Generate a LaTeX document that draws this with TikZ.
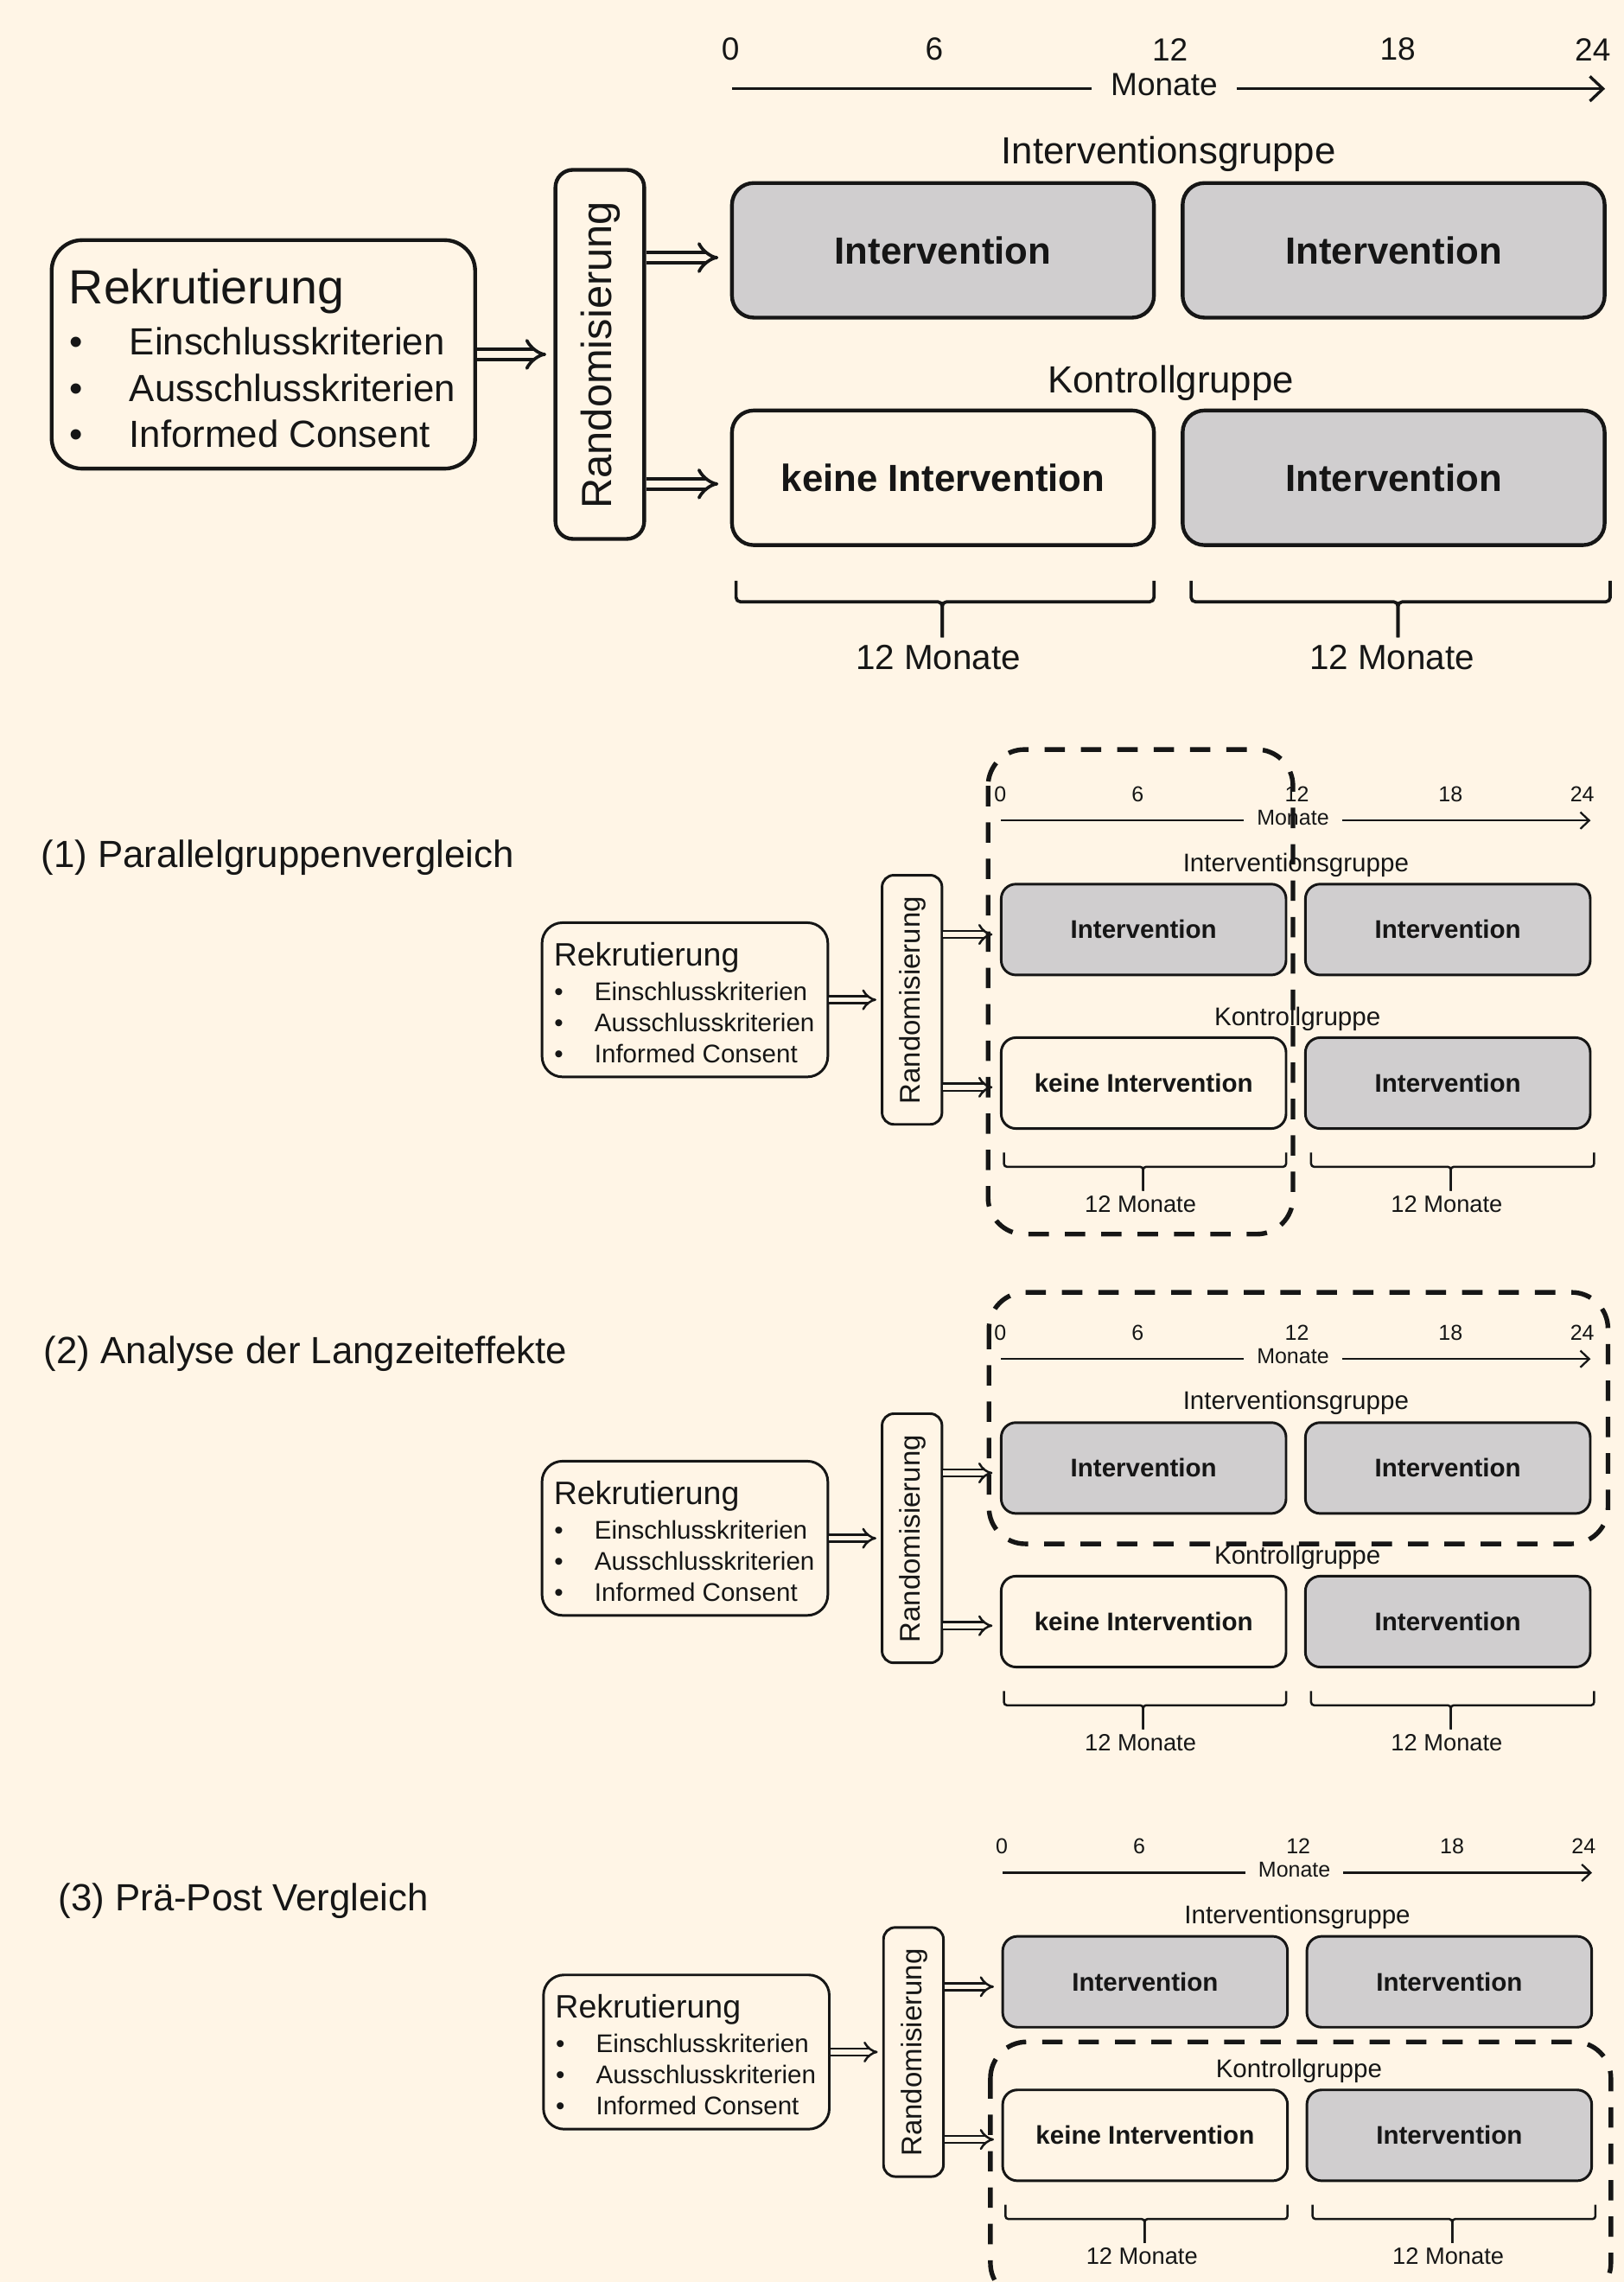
\documentclass[tikz,border=0pt]{standalone}
\usepackage{fontspec}
\setmainfont{Liberation Sans}
\usetikzlibrary{arrows.meta}
\definecolor{bgc}{RGB}{255,245,230}
\definecolor{boxgray}{RGB}{208,206,207}
\definecolor{ink}{RGB}{22,22,22}
\def\ds{1}
\tikzset{
  dsc/.code={\def\ds{#1}},
  txt/.style={inner sep=0pt, text=ink, font=\fontsize{#1}{#1}\selectfont},
  stdbox/.style={draw=ink, line width={2.6pt*\ds}, inner sep=0pt},
  ivbox/.style={stdbox, rounded corners={15pt*\ds}, minimum width=290pt, minimum height=92.5pt, text=ink, font=\fontsize{26}{30}\selectfont\bfseries},
  axisline/.style={draw=ink, line width={2pt*\ds}},
  brk/.style={draw=ink, line width={2.2pt*\ds}, rounded corners={3pt*\ds}},
  dbl/.style={draw=ink, line width={2.2pt*\ds}, double=bgc, double distance={5pt*\ds}, -{Implies[length=10pt, width=21pt, scale=\ds]}},
  hlbox/.style={draw=ink, line width=3.2pt, dash pattern=on 14pt off 11pt, rounded corners=25pt},
}
\newcommand\studydiagram[1]{%
  \node[txt=22] (#1t0) at (502,34) {0};
  \node[txt=22] (#1t6) at (642,34) {6};
  \node[txt=22] (#1t12) at (804,34) {12};
  \node[txt=22] (#1t18) at (960.5,34) {18};
  \node[txt=22] (#1t24) at (1094.5,34) {24};
  \node[txt=22, inner xsep=13pt] (#1mon) at (800,58) {Monate};
  \coordinate (#1axa) at (503,61);
  \coordinate (#1axb) at (1103,61);
  \draw[axisline] (#1axa) -- (#1axa -| #1mon.west);
  \draw[axisline, -{Straight Barb[length=9pt, width=17pt, scale=\ds]}] (#1axb -| #1mon.east) -- (#1axb);
  \node[txt=26] (#1igl) at (803,106) {Interventionsgruppe};
  \node[txt=26] (#1kgl) at (804.6,263) {Kontrollgruppe};
  \node[ivbox, fill=boxgray] (#1ig1) at (648,172) {Intervention};
  \node[ivbox, fill=boxgray] (#1ig2) at (957.7,172) {Intervention};
  \node[ivbox, fill=bgc] (#1kg1) at (648,328.3) {keine Intervention};
  \node[ivbox, fill=boxgray] (#1kg2) at (957.7,328.3) {Intervention};
  \node[stdbox, rounded corners={21pt*\ds}, minimum width=291pt, minimum height=157pt] (#1rek) at (181,243.5) {};
  \node[txt=33, anchor=base west] (#1rekt) at (47.3,209) {Rekrutierung};
  \node[txt=26, anchor=base west] (#1i1) at (47.85,244) {\makebox[40.95pt][l]{•}Einschlusskriterien};
  \node[txt=26, anchor=base west] (#1i2) at (47.85,275.8) {\makebox[40.95pt][l]{•}Ausschlusskriterien};
  \node[txt=26, anchor=base west] (#1i3) at (47.85,307.6) {\makebox[40.95pt][l]{•}Informed Consent};
  \node[stdbox, rounded corners={12pt*\ds}, minimum width=61pt, minimum height=253.6pt] (#1rand) at (412.2,243.5) {};
  \node[txt=29, rotate=90] (#1randt) at (413,244) {Randomisierung};
  \draw[dbl, shorten >={5pt*\ds}] (#1rek.east) -- (#1rand.west);
  \coordinate (#1ya) at (0,177);
  \coordinate (#1yb) at (0,332.5);
  \draw[dbl, shorten >={8pt*\ds}] (#1rand.east |- #1ya) -- (#1ig1.west |- #1ya);
  \draw[dbl, shorten >={8pt*\ds}] (#1rand.east |- #1yb) -- (#1kg1.west |- #1yb);
  \draw[brk] (505.8,399) -- (505.8,413.5) -- (647.5,413.5) -- (647.5,438);
  \draw[brk] (793,399) -- (793,413.5) -- (647.5,413.5) -- (647.5,438);
  \draw[brk] (818.5,399) -- (818.5,413.5) -- (960.7,413.5) -- (960.7,438);
  \draw[brk] (1106.5,399) -- (1106.5,413.5) -- (960.7,413.5) -- (960.7,438);
  \node[txt=24] (#1m1) at (644.8,451.5) {12 Monate};
  \node[txt=24] (#1m2) at (956.6,451.5) {12 Monate};
}
\begin{document}
\begin{tikzpicture}[x=1pt,y=-1pt]
\fill[bgc] (0,0) rectangle (1116,1568);
\useasboundingbox (0,0) rectangle (1116,1568);
\clip (0,0) rectangle (1116,1568);
\studydiagram{m}
\node[txt=26, anchor=west] (lab1) at (28,589) {(1) Parallelgruppenvergleich};
\begin{scope}[shift={(348.5,522.6)}, scale=0.675, transform shape, dsc=0.675]
  \studydiagram{a}
\end{scope}
\draw[hlbox] (679,515) rectangle (888.5,848);
\node[txt=26, anchor=west] (lab2) at (30,930) {(2) Analyse der Langzeiteffekte};
\begin{scope}[shift={(348.5,892.6)}, scale=0.675, transform shape, dsc=0.675]
  \studydiagram{b}
\end{scope}
\draw[hlbox] (679.6,888) rectangle (1105,1060.8);
\node[txt=26, anchor=west] (lab3) at (40,1306) {(3) Prä-Post Vergleich};
\begin{scope}[shift={(349.5,1245.6)}, scale=0.675, transform shape, dsc=0.675]
  \studydiagram{c}
\end{scope}
\draw[hlbox] (680.6,1403) rectangle (1107,1580);
\end{tikzpicture}
\end{document}
